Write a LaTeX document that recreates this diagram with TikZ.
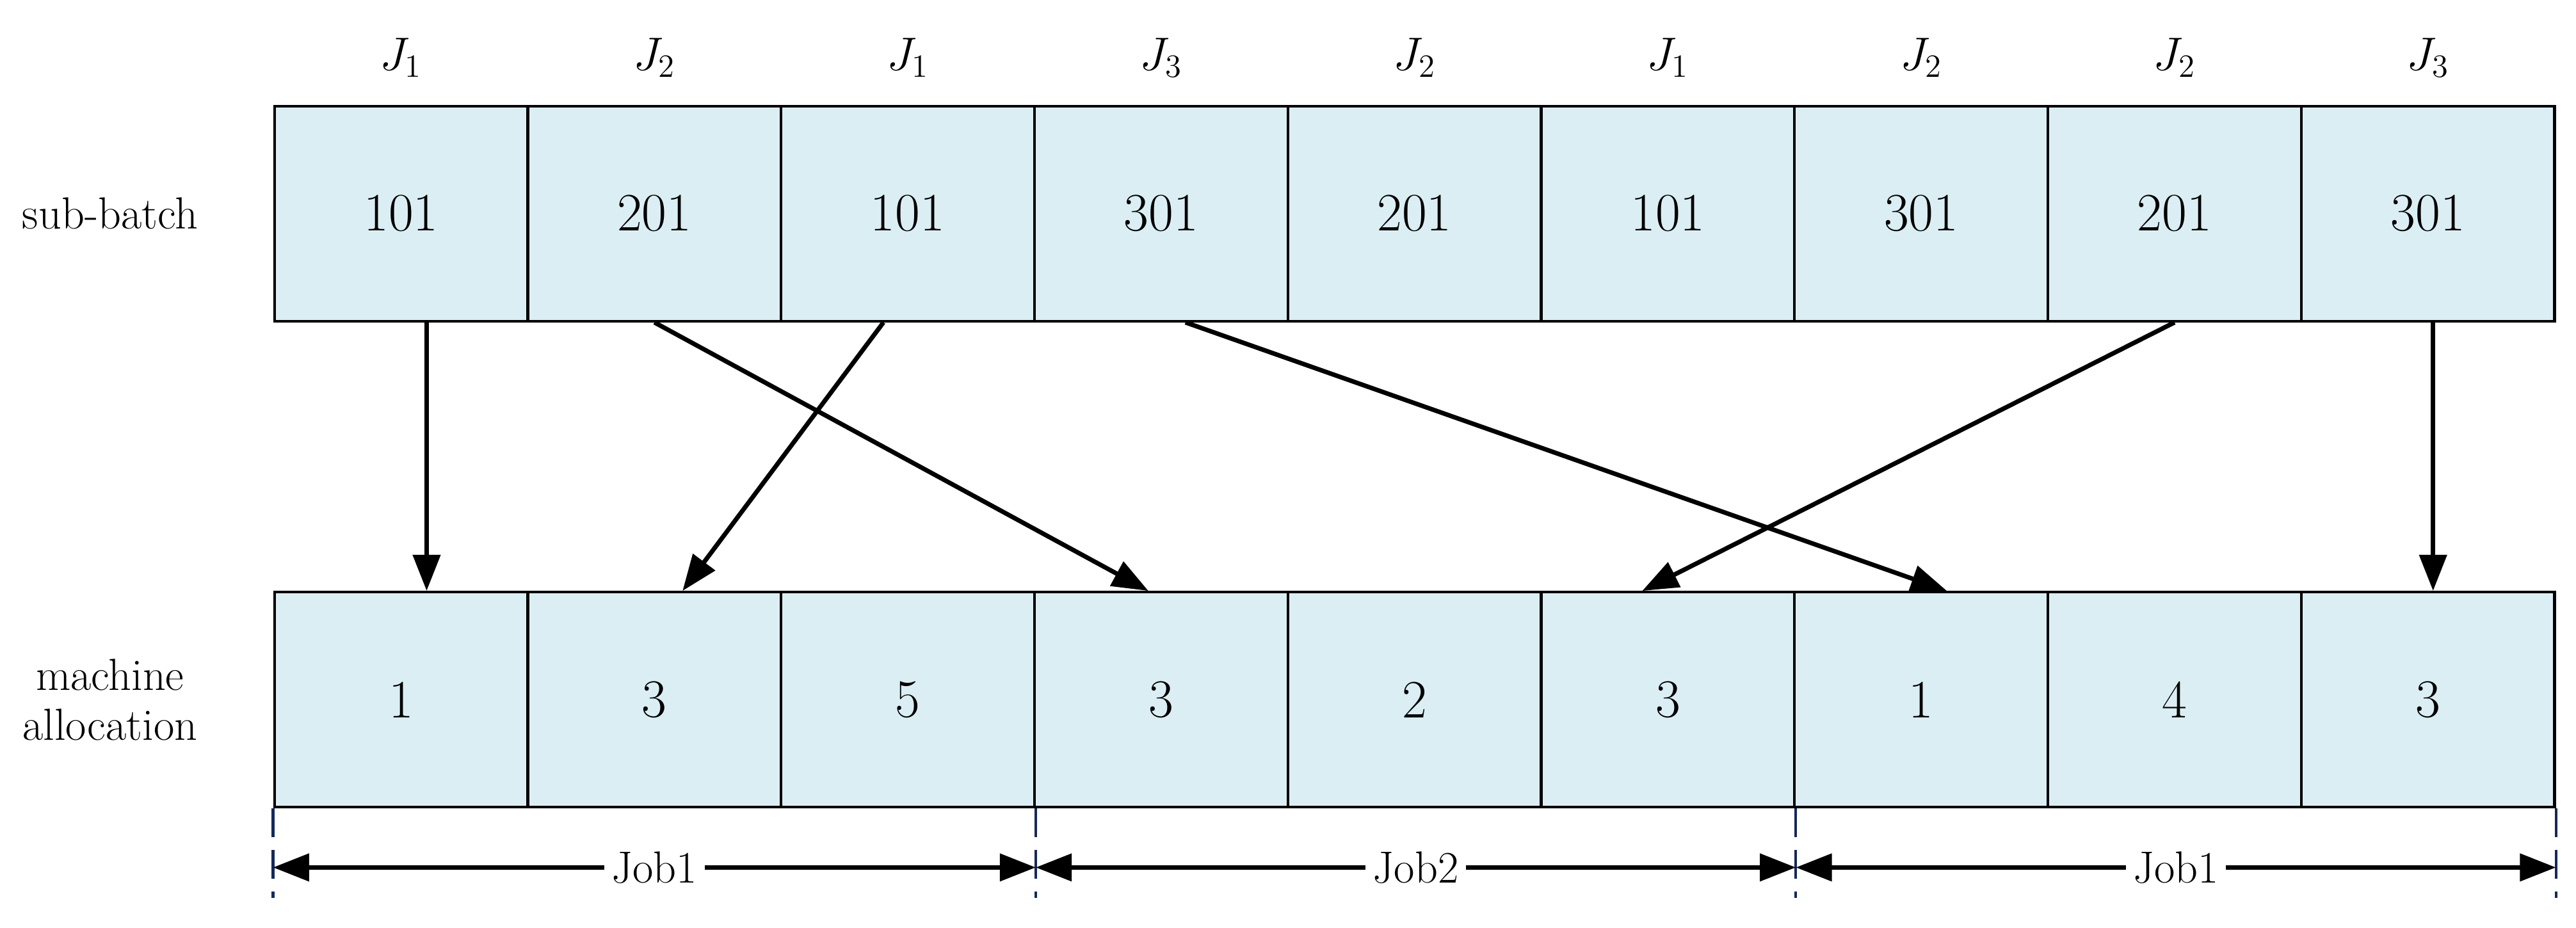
\documentclass[tikz,border=0pt]{standalone}
\usetikzlibrary{arrows.meta}
\definecolor{cellblue}{RGB}{219,238,243}
\definecolor{tickblue}{RGB}{20,40,90}
\tikzset{
  cell/.style={draw, fill=cellblue, line width=1.2pt, minimum width=3.957cm,
    minimum height=3.36cm, inner sep=0pt, font=\fontsize{24}{28}\selectfont},
  jlab/.style={font=\fontsize{20}{24}\selectfont\itshape},
  side/.style={align=center, font=\fontsize{20}{24}\selectfont},
  link/.style={line width=2pt, -{Triangle[length=16pt,width=12pt]}},
  dim/.style={line width=2pt, {Triangle[length=16pt,width=12pt]}-{Triangle[length=16pt,width=12pt]}}
}
\begin{document}
\begin{tikzpicture}[x=0.02566cm, y=-0.02566cm]
  \useasboundingbox (0,0) rectangle (1568,564.7);
  % cells
  \foreach \t/\b/\j [count=\i] in {101/1/1, 201/3/2, 101/5/1, 301/3/3, 201/2/2,
                                   101/3/1, 301/1/2, 201/4/2, 301/3/3} {
    \node[cell] (t\i) at ({167+154.22*(\i-0.5)}, 130) {\t};
    \node[cell] (b\i) at ({167+154.22*(\i-0.5)}, 426) {\b};
    \node[jlab] (j\i) at ({167+154.22*(\i-0.5)}, 35) {$J_{\j}$};
  }
  \node[side] (sub) at (67,130) {sub-batch};
  \node[side] (mach) at (67,426) {machine\\[-2pt]allocation};
  % allocation links
  \draw[link] ([xshift=0.4cm]t1.south) -- ([xshift=0.4cm]b1.north);
  \draw[link] (t2.south) -- ([xshift=-0.2cm]b4.north);
  \draw[link] ([xshift=-0.38cm]t3.south) -- ([xshift=0.44cm]b2.north);
  \draw[link] ([xshift=0.38cm]t4.south) -- ([xshift=0.4cm]b7.north);
  \draw[link] (t8.south) -- ([xshift=-0.4cm]b6.north);
  \draw[link] ([xshift=0.08cm]t9.south) -- ([xshift=0.08cm]b9.north);
  % job ranges
  \foreach \c in {b1.south west, b3.south east, b6.south east, b9.south east}
    \draw[tickblue, line width=1.2pt, dash pattern=on 0.45cm off 0.2cm] (\c) -- ++(0,-1.4cm);
  \coordinate (d0) at ([yshift=-0.92cm]b1.south west);
  \coordinate (d1) at ([yshift=-0.92cm]b3.south east);
  \coordinate (d2) at ([yshift=-0.92cm]b6.south east);
  \coordinate (d3) at ([yshift=-0.92cm]b9.south east);
  \draw[dim] (d0) -- node[fill=white, side] {Job1} (d1);
  \draw[dim] (d1) -- node[fill=white, side] {Job2} (d2);
  \draw[dim] (d2) -- node[fill=white, side] {Job1} (d3);
\end{tikzpicture}
\end{document}
